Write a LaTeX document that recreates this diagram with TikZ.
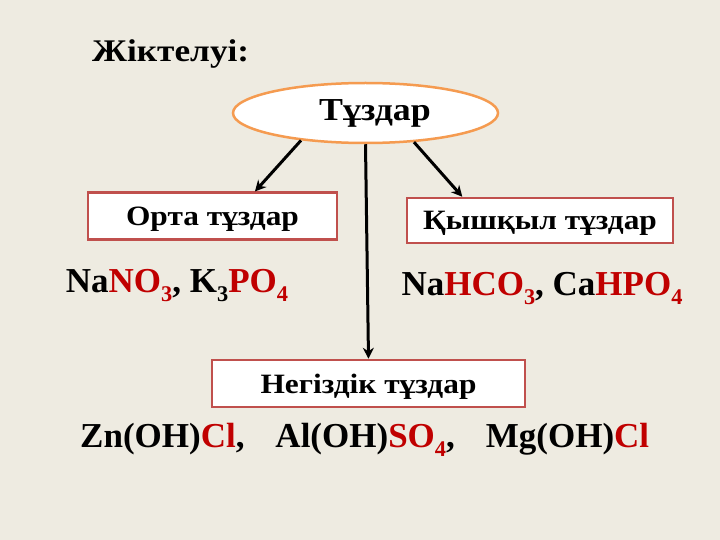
\documentclass[tikz,border=0pt]{standalone}
\usepackage{fontspec}
\usepackage{graphicx}
\setmainfont{Liberation Serif}
\newfontfamily\widefont{Liberation Serif}[FakeStretch=1.12]
\usetikzlibrary{shapes.geometric,arrows.meta}
\definecolor{slidebg}{RGB}{238,235,225}
\definecolor{ovalline}{RGB}{245,155,80}
\definecolor{boxline}{RGB}{192,80,77}
\definecolor{ionred}{RGB}{192,0,0}
\newcommand{\ion}[1]{\textcolor{ionred}{#1}}
\newcommand{\idx}[1]{\raisebox{-0.26em}{\scalebox{0.64}{#1}}}
\tikzset{
  kindbox/.style={draw=boxline, line width=2.5pt, fill=white, inner sep=0pt, text depth=0pt,
    font=\widefont\bfseries\fontsize{28}{32}\selectfont},
  link/.style={line width=3pt, -{Stealth[length=11pt,width=11pt]}},
  formula/.style={anchor=base, inner sep=0pt, font=\bfseries\fontsize{35}{40}\selectfont}
}
\begin{document}
\begin{tikzpicture}[x=1pt,y=-1pt]
  %%%%% background %%%%%
  \fill[slidebg] (0,0) rectangle (720,540);
  \useasboundingbox (0,0) rectangle (720,540);

  \node[anchor=base west, inner sep=0pt, font=\widefont\bfseries\fontsize{31.5}{36}\selectfont] (title) at (92,62) {Жіктелуі:};

  \node[ellipse, draw=ovalline, line width=2.5pt, fill=white, inner sep=0pt,
    minimum width=265pt, minimum height=60pt, font=\widefont\bfseries\fontsize{32}{40}\selectfont]
    (root) at (365.5,113) {\hspace*{19pt}Тұздар};

  \node[kindbox, minimum width=249pt, minimum height=46.5pt] (orta) at (212.5,216) {Орта тұздар};
  \node[kindbox, minimum width=266pt, minimum height=45pt] (qyshqyl) at (540,220.5) {Қышқыл тұздар};
  \node[kindbox, minimum width=313pt, minimum height=47pt] (negizdik) at (368.5,383.5) {Негіздік тұздар};

  \draw[link] (root.203) -- (orta.30);
  \draw[link] (root.-31) -- (qyshqyl.163);
  \draw[link] (root.south) -- (negizdik.north);

  %%%%% formulas %%%%%
  \node[formula] (ortaf) at (177,292) {Na\ion{NO\idx{3}}, K\idx{3}\ion{PO\idx{4}}};
  \node[formula] (qyshqylf) at (542,295) {Na\ion{HCO\idx{3}}, Ca\ion{HPO\idx{4}}};
  \node[formula, anchor=base west] (negizdikf) at (80,447)
    {Zn(OH)\ion{Cl},\hspace{31pt}Al(OH)\ion{SO\idx{4}},\hspace{31pt}Mg(OH)\ion{Cl}};
\end{tikzpicture}
\end{document}
